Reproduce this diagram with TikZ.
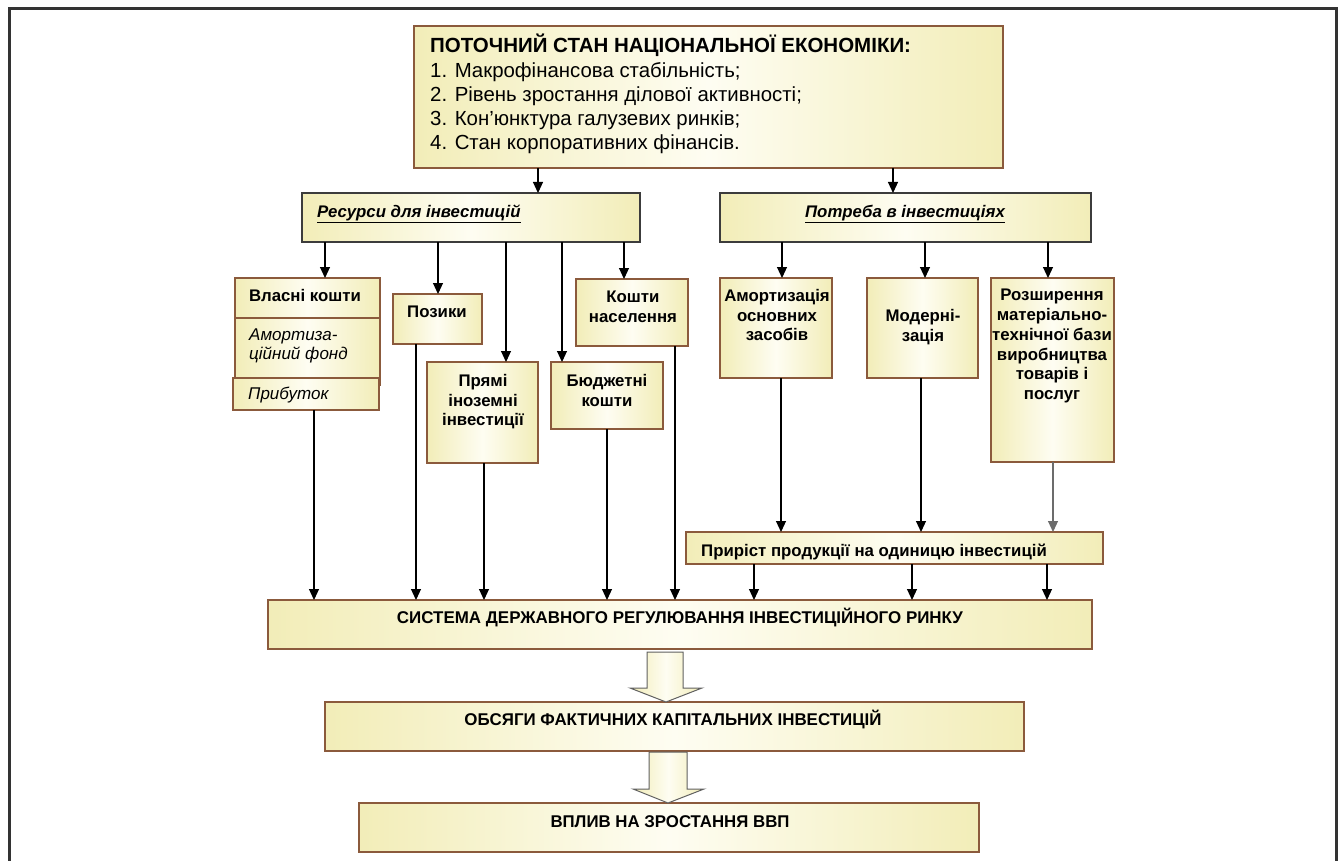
\documentclass[tikz,border=0pt]{standalone}
\usepackage{fontspec}
\setmainfont{Liberation Sans}
\usetikzlibrary{arrows.meta,fit}
\definecolor{boxY}{HTML}{F2EDB8}
\definecolor{boxW}{HTML}{FEFDF2}
\definecolor{brd}{HTML}{8B5A3C}
\definecolor{frm}{HTML}{333333}
\definecolor{dbrd}{HTML}{3C3C3C}
\begin{document}
\begin{tikzpicture}[x=1pt,y=-1pt,
  box/.style={draw=brd, line width=1.3pt, left color=boxY, right color=boxY, middle color=boxW, inner sep=0pt, outer sep=0pt},
  dbox/.style={box, draw=dbrd},
  lbl/.style={inner sep=0pt, font=\fontsize{16.8}{19.8}\selectfont\bfseries, align=center, anchor=north},
  ilbl/.style={inner sep=0pt, font=\fontsize{17}{19}\selectfont\itshape, align=left},
  blbl/.style={inner sep=0pt, font=\fontsize{17}{20}\selectfont\bfseries, anchor=base},
  arr/.style={line width=1.1pt, -{Triangle[length=11pt,width=10pt]}},
  garr/.style={arr, draw=gray!85!black},
  bigarr/.style={draw=gray!75!black, line width=1pt, left color=boxY, right color=boxY, middle color=boxW}
]
\useasboundingbox (0,0) rectangle (1340,861);
\draw[frm, line width=3pt] (9.5,880) -- (9.5,8.5) -- (1336.5,8.5) -- (1336.5,880);

% top box
\node[box, fit={(414,26) (1003,168)}] (top) {};
\node[inner sep=0pt, anchor=base west, font=\fontsize{20.5}{24}\selectfont\bfseries] (topT) at (430,52.3) {ПОТОЧНИЙ СТАН НАЦІОНАЛЬНОЇ ЕКОНОМІКИ:};
\node[inner sep=0pt, anchor=north west, align=left, font=\fontsize{20.4}{24}\selectfont] (topL) at (430,62.7)
  {1. Макрофінансова стабільність;\\2. Рівень зростання ділової активності;\\3. Кон’юнктура галузевих ринків;\\4. Стан корпоративних фінансів.};

% level 2
\node[dbox, fit={(302,193) (640,242)}] (res) {};
\node[inner sep=0pt, anchor=base west, font=\fontsize{16.8}{19}\selectfont\bfseries\itshape] (resT) at (317,217) {\underline{Ресурси для інвестицій}};
\node[dbox, fit={(720,193) (1091,242)}] (pot) {};
\node[inner sep=0pt, anchor=base, font=\fontsize{16.8}{19}\selectfont\bfseries\itshape] (potT) at (905,217) {\underline{Потреба в інвестиціях}};

% resources
\node[box, fit={(235,278) (380,318)}] (vl) {};
\node[lbl] (vlT) at (305,289) {Власні кошти};
\node[box, fit={(235,318) (380,385)}] (am) {};
\node[ilbl, anchor=north west] (amT) at (249,328.9) {Амортиза-\\ційний фонд};
\node[box, fit={(233,378) (379,410)}] (pr) {};
\node[ilbl, anchor=base west] (prT) at (248,399) {Прибуток};
\node[box, fit={(393,294) (482,344)}] (poz) {};
\node[lbl] (pozT) at (437,306) {Позики};
\node[box, fit={(427,362) (538,463)}] (pii) {};
\node[lbl] (piiT) at (483,374) {Прямі\\іноземні\\інвестиції};
\node[box, fit={(551,362) (663,429)}] (bud) {};
\node[lbl] (budT) at (607,374) {Бюджетні\\кошти};
\node[box, fit={(576,279) (688,346)}] (kn) {};
\node[lbl] (knT) at (633,291) {Кошти\\населення};

% needs
\node[box, fit={(720,278) (832,378)}] (aos) {};
\node[lbl] (aosT) at (777,289) {Амортизація\\основних\\засобів};
\node[box, fit={(867,278) (978,378)}] (mod) {};
\node[lbl] (modT) at (923,309) {Модерні-\\зація};
\node[box, fit={(991,278) (1114,462)}] (roz) {};
\node[lbl] (rozT) at (1052,289) {Розширення\\матеріально-\\технічної бази\\виробництва\\товарів і\\послуг};

\node[box, fit={(686,532) (1103,564)}] (ppr) {};
\node[inner sep=0pt, anchor=base west, font=\fontsize{16.8}{19}\selectfont\bfseries] (pprT) at (701,556) {Приріст продукції на одиницю інвестицій};

% bottom
\node[box, fit={(268,600) (1092,649)}] (sys) {};
\node[blbl] (sysT) at (680,623) {\resizebox{566pt}{\height}{СИСТЕМА ДЕРЖАВНОГО РЕГУЛЮВАННЯ ІНВЕСТИЦІЙНОГО РИНКУ}};
\node[box, fit={(325,702) (1024,751)}] (obs) {};
\node[blbl] (obsT) at (673,725) {\resizebox{417pt}{\height}{ОБСЯГИ ФАКТИЧНИХ КАПІТАЛЬНИХ ІНВЕСТИЦІЙ}};
\node[box, fit={(359,803) (979,852)}] (vpl) {};
\node[blbl] (vplT) at (670,827) {\resizebox{239pt}{\height}{ВПЛИВ НА ЗРОСТАННЯ ВВП}};

% connectors
\draw[arr] (top.south -| 538,0) -- (res.north -| 538,0);
\draw[arr] (top.south -| 893,0) -- (pot.north -| 893,0);
\draw[arr] (res.south -| 325,0) -- (vl.north -| 325,0);
\draw[arr] (res.south -| 438,0) -- (poz.north -| 438,0);
\draw[arr] (res.south -| 506,0) -- (pii.north -| 506,0);
\draw[arr] (res.south -| 562,0) -- (bud.north -| 562,0);
\draw[arr] (res.south -| 624,0) -- (kn.north -| 624,0);
\draw[arr] (pot.south -| 782,0) -- (aos.north -| 782,0);
\draw[arr] (pot.south -| 925,0) -- (mod.north -| 925,0);
\draw[arr] (pot.south -| 1048,0) -- (roz.north -| 1048,0);

\draw[arr] (pr.south -| 314,0) -- (sys.north -| 314,0);
\draw[arr] (poz.south -| 416,0) -- (sys.north -| 416,0);
\draw[arr] (pii.south -| 484,0) -- (sys.north -| 484,0);
\draw[arr] (bud.south -| 607,0) -- (sys.north -| 607,0);
\draw[arr] (kn.south -| 675,0) -- (sys.north -| 675,0);

\draw[arr] (aos.south -| 781,0) -- (ppr.north -| 781,0);
\draw[arr] (mod.south -| 921,0) -- (ppr.north -| 921,0);
\draw[garr] (roz.south -| 1053,0) -- (ppr.north -| 1053,0);

\draw[arr] (ppr.south -| 754,0) -- (sys.north -| 754,0);
\draw[arr] (ppr.south -| 912,0) -- (sys.north -| 912,0);
\draw[arr] (ppr.south -| 1047,0) -- (sys.north -| 1047,0);

% block arrows
\path[bigarr] (647,652) -- (683,652) -- (683,688) -- (702,688) -- (666,702) -- (630,688) -- (647,688) -- cycle;
\path[bigarr] (649,752) -- (687,752) -- (687,789) -- (704,789) -- (668,803) -- (633,789) -- (649,789) -- cycle;
\end{tikzpicture}
\end{document}
